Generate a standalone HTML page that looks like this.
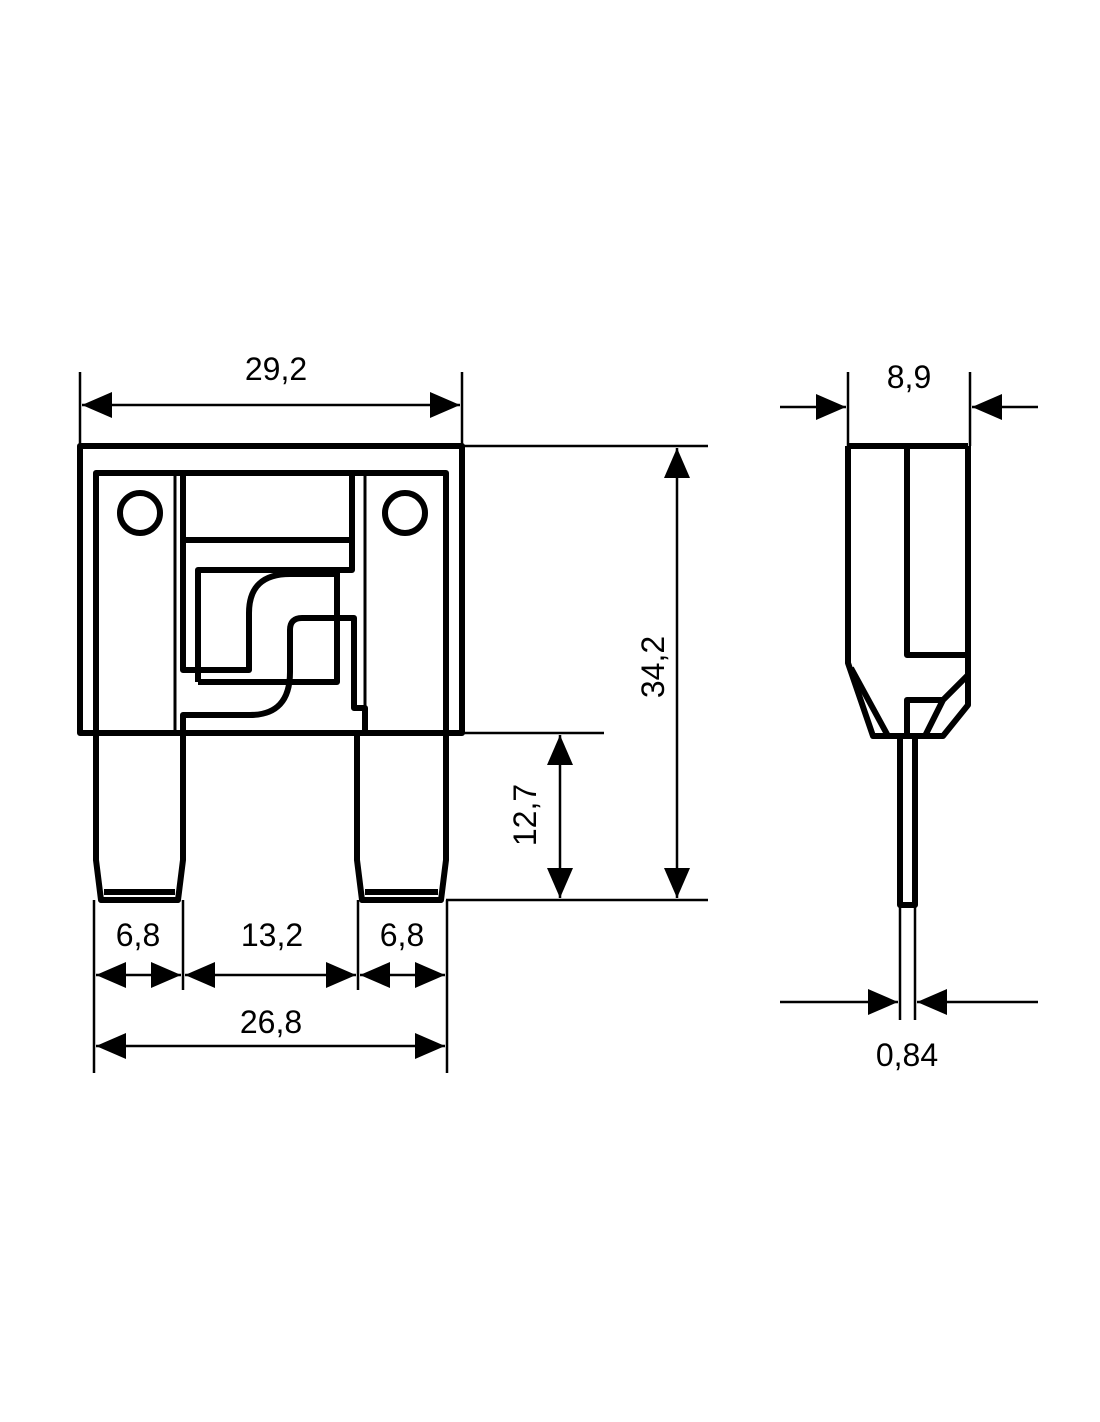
<!DOCTYPE html>
<html><head><meta charset="utf-8"><style>
html,body{margin:0;padding:0;background:#fff}
svg{display:block}
text{font-family:"Liberation Sans",sans-serif;font-size:32px;fill:#000}
</style></head><body>
<svg width="1100" height="1422" viewBox="0 0 1100 1422" xmlns="http://www.w3.org/2000/svg">
<defs>
<marker id="a" viewBox="0 0 30 26" refX="30" refY="13" markerWidth="30" markerHeight="26" markerUnits="userSpaceOnUse" orient="auto-start-reverse"><path d="M0,0 L30,13 L0,26 Z" fill="#000"/></marker>
</defs>
<g fill="none" stroke="#000" stroke-linejoin="round">
<g stroke-width="6">
<rect x="80" y="446" width="382" height="287"/>
<polyline points="96,733 96,473 446,473 446,733"/>
<circle cx="140" cy="513" r="20"/>
<circle cx="405" cy="513" r="20"/>
<line x1="183" y1="540" x2="352" y2="540"/>
<path d="M183,473 L183,670 L249,670 L249,613 Q249,574 290,574 L337,574"/>
<path d="M198,682 L198,570 L352,570 L352,473"/>
<polyline points="337,570 337,682 198,682"/>
<path d="M183,733 L183,715 L250,715 Q290,715 290,672 L290,630 Q290,618 302,618 L354,618 L354,708 L365,708 L365,733"/>
<path d="M96,733 L96,860 L101,900 L178,900 L183,860 L183,733"/>
<line x1="104" y1="892" x2="175" y2="892"/>
<path d="M357,733 L357,860 L362,900 L441,900 L446,860 L446,733"/>
<line x1="365" y1="892" x2="438" y2="892"/>
</g>
<g stroke-width="3">
<line x1="175" y1="473" x2="175" y2="733"/>
<line x1="365" y1="473" x2="365" y2="733"/>
</g>
<g stroke-width="6">
<polyline points="848,446 968,446"/>
<path d="M848,446 L848,663 L873,736 L943,736 L968,705 L968,446"/>
<polyline points="907,446 907,655 968,655"/>
<polyline points="851,668 888,736"/>
<polyline points="968,675 943,700 925,736"/>
<polyline points="907,736 907,700 943,700"/>
<path d="M900,736 L900,905 L915,905 L915,736"/>
</g>
<g stroke-width="2.5">
<line x1="80" y1="372" x2="80" y2="446"/>
<line x1="462" y1="372" x2="462" y2="446"/>
<line x1="82" y1="405" x2="460" y2="405" marker-start="url(#a)" marker-end="url(#a)"/>
<line x1="462" y1="446" x2="708" y2="446"/>
<line x1="446" y1="900" x2="708" y2="900"/>
<line x1="677" y1="448" x2="677" y2="898" marker-start="url(#a)" marker-end="url(#a)"/>
<line x1="462" y1="733" x2="604" y2="733"/>
<line x1="560" y1="735" x2="560" y2="898" marker-start="url(#a)" marker-end="url(#a)"/>
<line x1="94" y1="900" x2="94" y2="1073"/>
<line x1="447" y1="900" x2="447" y2="1073"/>
<line x1="183" y1="900" x2="183" y2="990"/>
<line x1="358" y1="900" x2="358" y2="990"/>
<line x1="96" y1="975" x2="181" y2="975" marker-start="url(#a)" marker-end="url(#a)"/>
<line x1="185" y1="975" x2="356" y2="975" marker-start="url(#a)" marker-end="url(#a)"/>
<line x1="360" y1="975" x2="445" y2="975" marker-start="url(#a)" marker-end="url(#a)"/>
<line x1="96" y1="1046" x2="445" y2="1046" marker-start="url(#a)" marker-end="url(#a)"/>
<line x1="848" y1="372" x2="848" y2="446"/>
<line x1="970" y1="372" x2="970" y2="446"/>
<line x1="780" y1="407" x2="846" y2="407" marker-end="url(#a)"/>
<line x1="1038" y1="407" x2="972" y2="407" marker-end="url(#a)"/>
<line x1="900" y1="905" x2="900" y2="1020"/>
<line x1="915" y1="905" x2="915" y2="1020"/>
<line x1="780" y1="1002" x2="898" y2="1002" marker-end="url(#a)"/>
<line x1="1038" y1="1002" x2="917" y2="1002" marker-end="url(#a)"/>
</g>
</g>
<text x="276" y="380" text-anchor="middle">29,2</text>
<text x="909" y="388" text-anchor="middle">8,9</text>
<text x="138" y="946" text-anchor="middle">6,8</text>
<text x="272" y="946" text-anchor="middle">13,2</text>
<text x="402" y="946" text-anchor="middle">6,8</text>
<text x="271" y="1033" text-anchor="middle">26,8</text>
<text x="907" y="1066" text-anchor="middle">0,84</text>
<text transform="translate(664,667) rotate(-90)" text-anchor="middle">34,2</text>
<text transform="translate(536,815) rotate(-90)" text-anchor="middle">12,7</text>
</svg>
</body></html>
